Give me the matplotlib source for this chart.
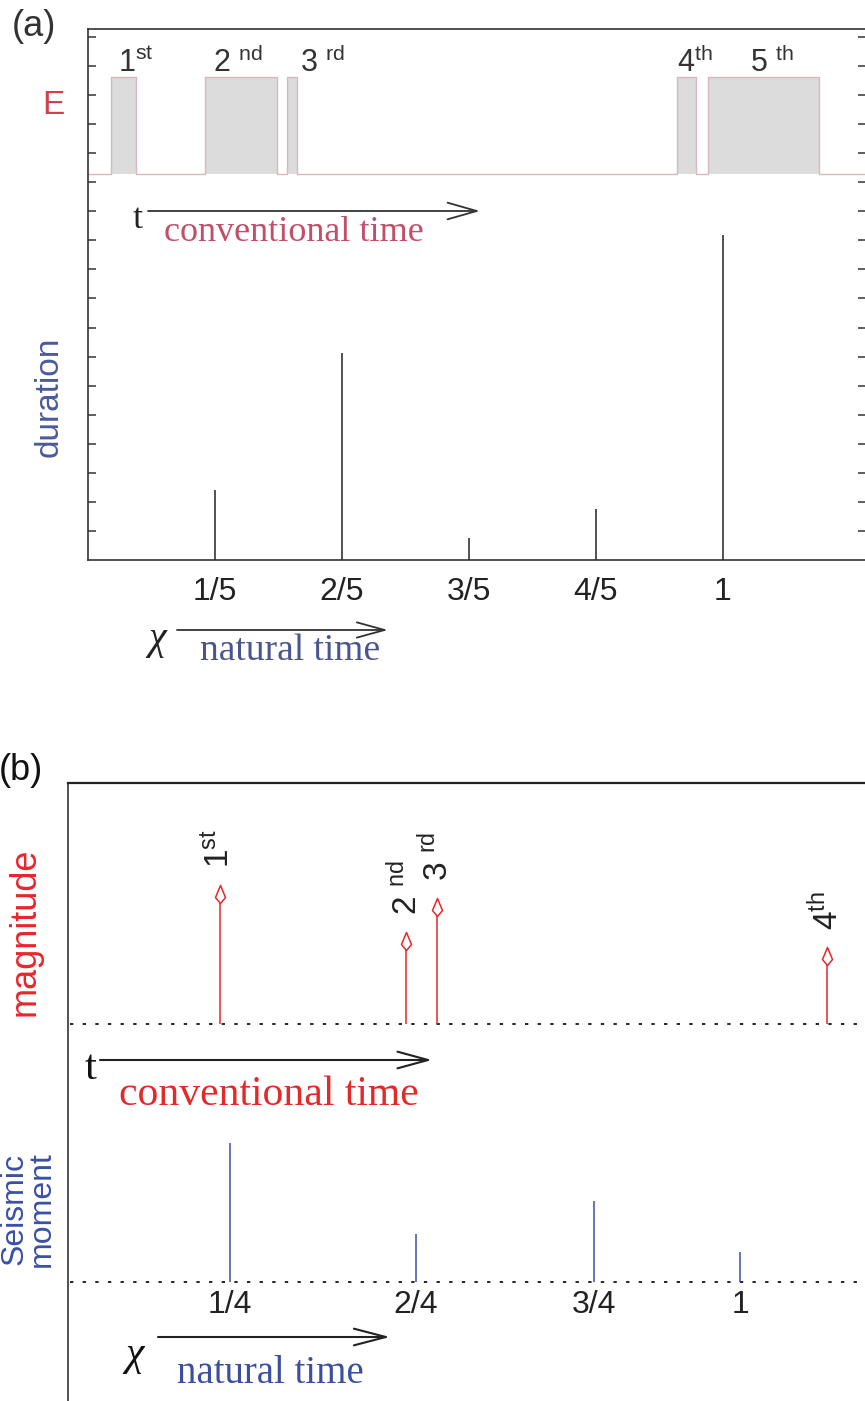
import numpy as np
import matplotlib
matplotlib.use('Agg')
from matplotlib import pyplot as plt
from matplotlib.path import Path

plt.rcParams['font.family'] = ['Liberation Sans', 'DejaVu Sans']
plt.rcParams['mathtext.fontset'] = 'custom'
plt.rcParams['mathtext.rm'] = 'Liberation Sans'
plt.rcParams['mathtext.it'] = 'Liberation Sans:italic'
plt.rcParams['mathtext.bf'] = 'Liberation Sans:bold'
plt.rcParams['lines.scale_dashes'] = False

W, H = 865, 1401
SERIF = ['Liberation Serif', 'DejaVu Serif']

# ---- panel (a): events in conventional time (onset, width) and durations in natural time
onsets_a = [0.036, 0.185, 0.313, 0.927, 0.976]
widths_a = [0.039, 0.113, 0.016, 0.031, 0.175]
E_base, E_top = 13.28, 16.62
chi_a = [1/5, 2/5, 3/5, 4/5, 1]
chi_a_labels = ['1/5', '2/5', '3/5', '4/5', '1']
dur_a = [2.41, 7.12, 0.76, 1.75, 11.18]
ord_a = ['1', '2 ', '3 ', '4', '5 ']
suf_a = ['st', 'nd', 'rd', 'th', 'th']
ord_a_x = [118, 213, 300, 677, 750]

# ---- panel (b): earthquakes in conventional time, seismic moments in natural time
t_b = [152, 338, 369, 759]
mag_b = [139, 92, 126, 77]
mag_base = 377
chi_b = [162, 348, 526, 672]
chi_b_labels = ['1/4', '2/4', '3/4', '1']
moment_b = [139, 48, 81, 30]
mom_base = 119
ord_b = ['1', '2 ', '3 ', '4']
suf_b = ['st', 'nd', 'rd', 'th']

red = '#e8262b'
blue = '#3a50a5'

fig = plt.figure(figsize=(W/100, H/100), dpi=100)

# ================= (a)
ax = fig.add_axes([88/W, 1-560/H, (866-88)/W, (560-29)/H])
xmax_a = 778/635
ax.set_xlim(0, xmax_a)
ax.set_ylim(0, 531/29.06)
for s in ax.spines.values():
    s.set_color('#333333')
    s.set_linewidth(1.2)
ax.set_yticks(range(1, 19))
ax.set_yticklabels([])
ax.tick_params(axis='y', direction='in', length=5.8, width=1.1, left=True, right=True, color='#333333')
ax.set_xticks(chi_a)
ax.set_xticklabels(chi_a_labels, fontsize=23, color='#222222')
ax.tick_params(axis='x', length=0, pad=12)

ax.bar(onsets_a, E_top-E_base, widths_a, bottom=E_base, align='edge', color='#dcdcdc', lw=0)
xs, ys = [0], [E_base]
for o, w in zip(onsets_a, widths_a):
    xs += [o, o, o+w, o+w]
    ys += [E_base, E_top, E_top, E_base]
xs.append(xmax_a); ys.append(E_base)
ax.plot(xs, ys, color='#d8b8bd', lw=1.0)
ax.vlines(chi_a, 0, dur_a, color='#333333', lw=1.2)

# ================= (b)
bx = fig.add_axes([68/W, 0, (870-68)/W, (H-783)/H])
bx.set_xlim(0, 802)
bx.set_ylim(0, H-783)
bx.set_xticks([]); bx.set_yticks([])
bx.spines['bottom'].set_visible(False)
bx.spines['right'].set_visible(False)
bx.spines['left'].set_linewidth(1.1)
bx.spines['top'].set_linewidth(1.6)
for s in bx.spines.values():
    s.set_color('#222222')

bx.plot([2, 792], [mag_base]*2, color='k', lw=1.2, dashes=(2.4, 6.7))
bx.plot([2, 792], [mom_base]*2, color='k', lw=1.2, dashes=(2.4, 6.7))

kite = Path([(0, 9), (5, -3), (0, -9), (-5, -3), (0, 9)],
            [Path.MOVETO, Path.LINETO, Path.LINETO, Path.LINETO, Path.CLOSEPOLY])
tops = mag_base + np.array(mag_b)
bx.vlines(t_b, mag_base, tops-17, color=red, lw=1.1)
bx.plot(t_b, tops-9, ls='none', marker=kite, ms=13, mfc='white', mec=red, mew=1.1)
for x, top, o, s in zip(t_b, tops, ord_b, suf_b):
    bx.text(x, top+17, o + r'$^{\mathrm{' + s + '}}$', rotation=90, ha='center', va='bottom',
            fontsize=24, color='#222222')

bx.vlines(chi_b, mom_base, mom_base + np.array(moment_b), color=blue, lw=1.1)
for x, lab in zip(chi_b, chi_b_labels):
    bx.text(x, mom_base-23, lab, ha='center', va='center', fontsize=23, color='#222222')

# ================= annotations (pixel overlay)
ov = fig.add_axes([0, 0, 1, 1])
ov.set_xlim(0, W); ov.set_ylim(H, 0)
ov.axis('off')

def arrow(x0, x1, y, hl, hw, color='#333333', lw=1.3):
    ov.annotate('', xy=(x1, y), xytext=(x0, y),
                arrowprops=dict(arrowstyle='->,head_length=%g,head_width=%g' % (hl, hw),
                                lw=lw, color=color, mutation_scale=10, shrinkA=0, shrinkB=0))

ov.text(34, 27, '(a)', fontsize=26, ha='center', va='center', color='#333333')
ov.text(21, 770, '(b)', fontsize=26, ha='center', va='center', color='#111111')
ov.text(53, 105, 'E', fontsize=24, ha='center', va='center', color='#d2404f')
ov.text(49, 397, 'duration', fontsize=24, rotation=90, ha='center', va='center', color='#4a5a9a')
for x, o, s in zip(ord_a_x, ord_a, suf_a):
    ov.text(x, 72, o + r'$^{\mathrm{' + s + '}}$', fontsize=22, ha='left', va='baseline', color='#333333')

ov.text(138, 219, 't', fontsize=26, family=SERIF, ha='center', va='center', color='#222222')
arrow(148, 480, 211, 2.1, 0.6)
ov.text(294, 241, 'conventional time', fontsize=26, family=SERIF, ha='center', va='baseline', color='#c0506a')
ov.text(157, 640, 'χ', fontsize=29, family=SERIF, style='italic', ha='center', va='center', color='#222222')
arrow(177, 388, 630, 2.0, 0.55)
ov.text(290, 660, 'natural time', fontsize=27, family=SERIF, ha='center', va='baseline', color='#4a5590')

ov.text(25, 932, 'magnitude', fontsize=26, rotation=90, ha='center', va='center', color=red)
ov.text(28, 1209, 'Seismic\nmoment', fontsize=23, rotation=90, ha='center', va='center',
        multialignment='center', linespacing=0.86, color=blue)

ov.text(91, 1069, 't', fontsize=31, family=SERIF, ha='center', va='center', color='#111111')
arrow(100, 432, 1060, 2.2, 0.6, color='#222222', lw=1.5)
ov.text(269, 1105, 'conventional time', fontsize=30, family=SERIF, ha='center', va='baseline', color='#e32a2a')
ov.text(135, 1355, 'χ', fontsize=30, family=SERIF, style='italic', ha='center', va='center', color='#111111')
arrow(158, 390, 1337, 2.3, 0.6, color='#222222', lw=1.5)
ov.text(270, 1383, 'natural time', fontsize=28, family=SERIF, ha='center', va='baseline', color='#3c4ea0')

fig.savefig('out.png', dpi=100)
